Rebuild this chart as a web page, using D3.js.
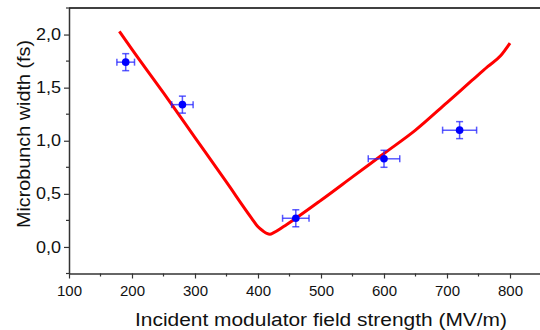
<!DOCTYPE html>
<html>
<head>
<meta charset="utf-8">
<script src="https://cdn.jsdelivr.net/npm/d3@7"></script>
<style>
  body { margin: 0; background: #fff; }
  text { font-family: "Liberation Sans", Arial, sans-serif; }
</style>
</head>
<body>
<script>
var w = 540, h = 330;

// measured points (blue)
var pointX = [190, 280, 460, 600, 720];
var pointY = [1.74, 1.34, 0.27, 0.83, 1.10];
var errX = [14, 17, 21, 25, 27];
var errY = [0.08, 0.08, 0.08, 0.08, 0.08];

// simulation curve (red)
var curveX = [180, 200, 250, 300, 350, 390, 400, 408, 414, 419, 425, 440, 460, 500, 550, 600, 650, 700, 740, 765, 785, 800];
var curveY = [2.03, 1.86, 1.45, 1.03, 0.61, 0.27, 0.19, 0.15, 0.127, 0.12, 0.135, 0.19, 0.27, 0.44, 0.66, 0.88, 1.10, 1.36, 1.57, 1.70, 1.80, 1.92];

var xTicks = [100, 200, 300, 400, 500, 600, 700, 800];
var yTicks = [0, 0.5, 1.0, 1.5, 2.0];

var margin = {top: 8, right: 0, bottom: 56, left: 69};

var x = d3.scaleLinear().domain([100, 850]).range([margin.left, 541.5]);
var y = d3.scaleLinear().domain([-0.25, 2.25]).range([273.5, margin.top]);

var svg = d3.select("body").append("svg")
    .attr("width", w)
    .attr("height", h);

var fmt = function(d) { return d3.format(".1f")(d).replace(".", ","); };

// minor ticks
var xMinor = d3.range(150, 850, 100);
var yMinor = d3.range(-0.25, 2.3, 0.5);

var xAxis = svg.append("g")
    .attr("transform", "translate(0," + y(-0.25) + ")")
    .call(d3.axisBottom(x).tickValues(xTicks).tickSize(5).tickSizeOuter(0).tickPadding(7));

var yAxis = svg.append("g")
    .attr("transform", "translate(" + x(100) + ",0)")
    .call(d3.axisLeft(y).tickValues(yTicks).tickFormat(fmt).tickSize(5).tickSizeOuter(0).tickPadding(3));

[xAxis, yAxis].forEach(function(g) {
    g.select(".domain").attr("stroke", "#333").attr("stroke-width", 1.5);
    g.selectAll(".tick line").attr("stroke", "#333").attr("stroke-width", 1.2);
    g.selectAll("text").attr("font-size", 15).attr("fill", "#111");
});

yAxis.selectAll("text")
    .attr("font-size", 16)
    .attr("textLength", 25)
    .attr("lengthAdjust", "spacingAndGlyphs");

svg.append("g").selectAll("line")
    .data(xMinor).enter().append("line")
    .attr("x1", function(d) { return x(d); })
    .attr("x2", function(d) { return x(d); })
    .attr("y1", y(-0.25))
    .attr("y2", y(-0.25) + 3)
    .attr("stroke", "#333").attr("stroke-width", 1.2);

svg.append("g").selectAll("line")
    .data(yMinor).enter().append("line")
    .attr("x1", x(100) - 3)
    .attr("x2", x(100))
    .attr("y1", function(d) { return y(d); })
    .attr("y2", function(d) { return y(d); })
    .attr("stroke", "#333").attr("stroke-width", 1.2);

// top frame line
svg.append("line")
    .attr("x1", x(100)).attr("x2", w)
    .attr("y1", y(2.25)).attr("y2", y(2.25))
    .attr("stroke", "#000").attr("stroke-width", 1.5);

// red curve
var line = d3.line()
    .x(function(d) { return x(d[0]); })
    .y(function(d) { return y(d[1]); })
    .curve(d3.curveMonotoneX);

svg.append("path")
    .datum(d3.zip(curveX, curveY))
    .attr("d", line)
    .attr("fill", "none")
    .attr("stroke", "#ff0000")
    .attr("stroke-width", 3)
    .attr("stroke-linejoin", "round");

// error bars
var pts = d3.range(pointX.length).map(function(i) {
    return {x: pointX[i], y: pointY[i], ex: errX[i], ey: errY[i]};
});

var eb = svg.append("g")
    .attr("stroke", "#2222ff")
    .attr("stroke-opacity", 0.75)
    .attr("stroke-width", 1.5);

var cap = 3.5;
pts.forEach(function(d) {
    var cx = x(d.x), cy = y(d.y);
    var x0 = x(d.x - d.ex), x1 = x(d.x + d.ex);
    var y0 = y(d.y - d.ey), y1 = y(d.y + d.ey);
    eb.append("line").attr("x1", x0).attr("x2", x1).attr("y1", cy).attr("y2", cy);
    eb.append("line").attr("x1", x0).attr("x2", x0).attr("y1", cy - cap).attr("y2", cy + cap);
    eb.append("line").attr("x1", x1).attr("x2", x1).attr("y1", cy - cap).attr("y2", cy + cap);
    eb.append("line").attr("x1", cx).attr("x2", cx).attr("y1", y0).attr("y2", y1);
    eb.append("line").attr("x1", cx - cap).attr("x2", cx + cap).attr("y1", y0).attr("y2", y0);
    eb.append("line").attr("x1", cx - cap).attr("x2", cx + cap).attr("y1", y1).attr("y2", y1);
});

svg.append("g").selectAll("circle")
    .data(pts).enter().append("circle")
    .attr("cx", function(d) { return x(d.x); })
    .attr("cy", function(d) { return y(d.y); })
    .attr("r", 3.8)
    .attr("fill", "#0000ff");

// axis titles
svg.append("text")
    .attr("x", 321)
    .attr("y", 326)
    .attr("text-anchor", "middle")
    .attr("font-size", 18)
    .attr("textLength", 372)
    .attr("lengthAdjust", "spacingAndGlyphs")
    .attr("fill", "#111")
    .text("Incident modulator field strength (MV/m)");

svg.append("text")
    .attr("transform", "translate(30,134) rotate(-90)")
    .attr("text-anchor", "middle")
    .attr("font-size", 18)
    .attr("textLength", 188)
    .attr("lengthAdjust", "spacingAndGlyphs")
    .attr("fill", "#111")
    .text("Microbunch width (fs)");
</script>
</body>
</html>
